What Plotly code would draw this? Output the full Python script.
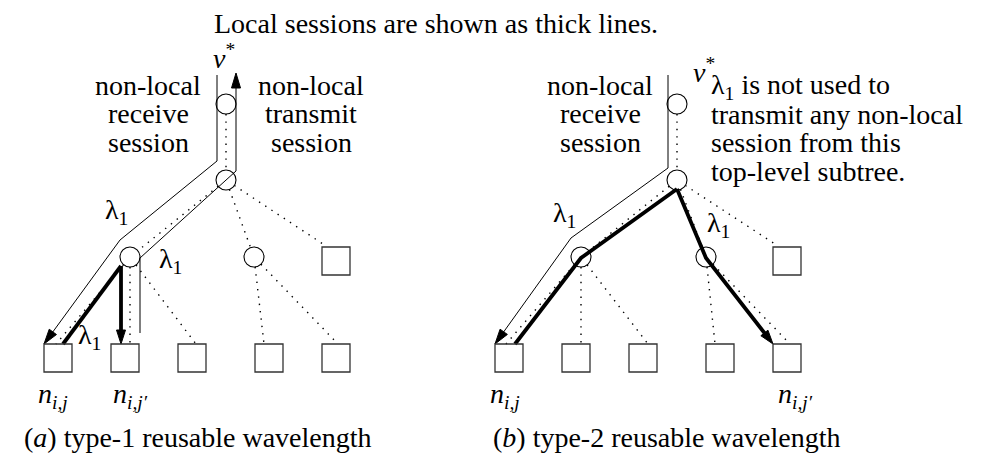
import plotly.graph_objects as go
import math

W, H = 1007, 453
FONT = "Liberation Serif"
FS = 28

# ---------------- Diagram (a) ----------------
a_circle_x = [218, 218, 122, 246]
a_circle_y = [96, 172, 249, 249]
a_square_x = [328, 50, 117, 184, 261, 328]
a_square_y = [253, 350, 350, 350, 350, 350]
# dotted tree edges: start circle index, end point, end-is-circle flag
a_edge_from = [0, 1, 1, 1, 2, 2, 2, 3, 3]
a_edge_to_x = [218, 122, 246, 318, 48, 122, 188, 256, 330]
a_edge_to_y = [172, 249, 249, 238, 336, 336, 336, 336, 336]
a_edge_to_circle = [1, 1, 1, 0, 0, 0, 0, 0, 0]
# thin sessions (non-local)
a_receive_x = [209, 209, 112, 36]
a_receive_y = [67, 153, 232, 336]
a_transmit_x = [132, 132, 228, 228]
a_transmit_y = [325, 250, 163, 65]
# thick sessions (local)
a_local1_x = [113, 55]
a_local1_y = [258, 336]
a_local2_x = [113, 113]
a_local2_y = [258, 336]

# ---------------- Diagram (b) ----------------
b_circle_x = [669, 669, 573, 698]
b_circle_y = [96, 172, 249, 249]
b_square_x = [779, 501, 568, 635, 712, 779]
b_square_y = [253, 350, 350, 350, 350, 350]
b_edge_from = [0, 1, 1, 1, 2, 2, 2, 3, 3]
b_edge_to_x = [669, 573, 698, 770, 498, 573, 640, 707, 782]
b_edge_to_y = [172, 249, 249, 238, 336, 336, 336, 336, 336]
b_edge_to_circle = [1, 1, 1, 0, 0, 0, 0, 0, 0]
b_receive_x = [660, 660, 563, 487]
b_receive_y = [67, 160, 230, 336]
b_local1_x = [669, 573, 507]
b_local1_y = [181, 250, 336]
b_local2_x = [669, 698, 765]
b_local2_y = [181, 250, 336]

# ---------------- Text labels ----------------
label_text = [
    "Local sessions are shown as thick lines.",
    "<i>v</i><sup>*</sup>",
    "non-local", "receive", "session",
    "non-local", "transmit", "session",
    "λ<sub>1</sub>", "λ<sub>1</sub>", "λ<sub>1</sub>",
    "<i>n</i><sub><i>i,j</i></sub>", "<i>n</i><sub><i>i,j′</i></sub>",
    "(<i>a</i>) type-1 reusable wavelength",
    "<i>v</i><sup>*</sup>",
    "non-local", "receive", "session",
    "λ<sub>1</sub>", "λ<sub>1</sub>",
    "<i>n</i><sub><i>i,j</i></sub>", "<i>n</i><sub><i>i,j′</i></sub>",
    "(<i>b</i>) type-2 reusable wavelength",
]
label_x = [428, 216, 140, 140, 140, 303, 303, 303, 108, 162, 81, 45, 122, 190,
           696, 592, 592, 592, 556, 710, 497, 787, 659]
label_y = [15, 48, 77, 105, 134, 77, 105, 134, 203, 252, 328, 387, 387, 429,
           62, 77, 105, 134, 206, 216, 387, 387, 429]

note_lines = ["λ<sub>1</sub> is not used to", "transmit any non-local",
              "session from this", "top-level subtree."]
note_x = 702
note_y = [78, 106, 134, 163]

R = 10  # circle radius in px

fig = go.Figure()


def add_line(xs, ys, width=1, dash=None):
    fig.add_trace(go.Scatter(x=xs, y=ys, mode="lines",
                             line=dict(color="black", width=width, dash=dash),
                             hoverinfo="skip", showlegend=False))


def add_arrow_path(xs, ys, width, L=15, hw=4.5):
    x0, y0, x1, y1 = xs[-2], ys[-2], xs[-1], ys[-1]
    d = math.hypot(x1 - x0, y1 - y0)
    ux, uy = (x1 - x0) / d, (y1 - y0) / d
    bx, by = x1 - L * ux, y1 - L * uy
    add_line(xs[:-1] + [bx + 2 * ux], ys[:-1] + [by + 2 * uy], width)
    tx = [x1, bx - hw * uy, bx + hw * uy, x1]
    ty = [y1, by + hw * ux, by - hw * ux, y1]
    fig.add_trace(go.Scatter(x=tx, y=ty, mode="lines", fill="toself",
                             fillcolor="black", line=dict(color="black", width=1),
                             hoverinfo="skip", showlegend=False))


def add_edges(cx, cy, efrom, ex, ey, eisc):
    for i, j in enumerate(efrom):
        x0, y0 = cx[j], cy[j]
        x1, y1 = ex[i], ey[i]
        d = math.hypot(x1 - x0, y1 - y0)
        ux, uy = (x1 - x0) / d, (y1 - y0) / d
        sx, sy = x0 + R * ux, y0 + R * uy
        if eisc[i]:
            x1, y1 = x1 - R * ux, y1 - R * uy
        add_line([sx, x1], [sy, y1], 1.4, "1.4px,6px")


def add_nodes(cx, cy, sx, sy):
    fig.add_trace(go.Scatter(x=cx, y=cy, mode="markers",
                             marker=dict(symbol="circle-open", size=2 * R,
                                         color="black", line=dict(width=1.1)),
                             hoverinfo="skip", showlegend=False))
    fig.add_trace(go.Scatter(x=sx, y=sy, mode="markers",
                             marker=dict(symbol="square-open", size=28,
                                         color="#333", line=dict(width=1.3)),
                             hoverinfo="skip", showlegend=False))


# Diagram (a)
add_edges(a_circle_x, a_circle_y, a_edge_from, a_edge_to_x, a_edge_to_y, a_edge_to_circle)
add_arrow_path(a_receive_x, a_receive_y, 1)
add_arrow_path(a_transmit_x, a_transmit_y, 1)
add_line(a_local1_x, a_local1_y, 3.8)
add_arrow_path(a_local2_x, a_local2_y, 3.8, L=14, hw=4.5)
add_nodes(a_circle_x, a_circle_y, a_square_x, a_square_y)

# Diagram (b)
add_edges(b_circle_x, b_circle_y, b_edge_from, b_edge_to_x, b_edge_to_y, b_edge_to_circle)
add_arrow_path(b_receive_x, b_receive_y, 1)
add_line(b_local1_x, b_local1_y, 3.8)
add_arrow_path(b_local2_x, b_local2_y, 3.8, L=14, hw=4.5)
add_nodes(b_circle_x, b_circle_y, b_square_x, b_square_y)

for t, x, y in zip(label_text, label_x, label_y):
    fig.add_annotation(x=x, y=y, text=t, showarrow=False, xanchor="center",
                       yanchor="middle", borderpad=0,
                       font=dict(family=FONT, size=FS, color="black"))
for t, y in zip(note_lines, note_y):
    fig.add_annotation(x=note_x, y=y, text=t, showarrow=False, xanchor="left",
                       yanchor="middle", borderpad=0,
                       font=dict(family=FONT, size=FS, color="black"))

fig.update_layout(
    width=W, height=H, margin=dict(l=0, r=0, t=0, b=0),
    paper_bgcolor="white", plot_bgcolor="white",
    xaxis=dict(range=[0, W], visible=False, fixedrange=True),
    yaxis=dict(range=[H, 0], visible=False, fixedrange=True),
    showlegend=False,
)
fig.write_html("out.html")
